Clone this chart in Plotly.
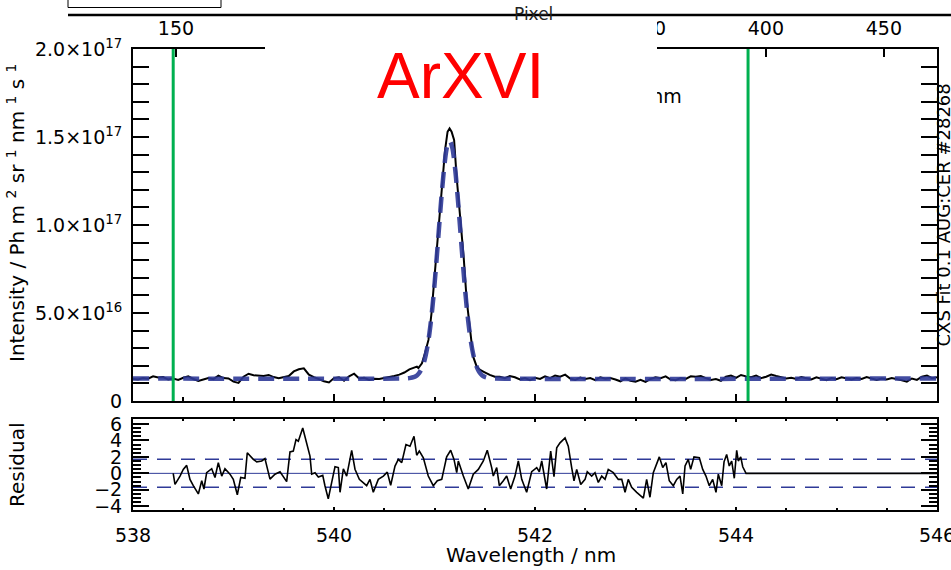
import plotly.graph_objects as go

# ---------------------------------------------------------------- data ----
# Measured spectrum (wavelength in nm, intensity in units of 1e16 Ph m^-2 sr^-1 nm^-1 s^-1)
spec_wl = [
    538.00, 538.05, 538.10, 538.15, 538.20, 538.25, 538.30, 538.35, 538.40, 538.45,
    538.50, 538.55, 538.60, 538.65, 538.70, 538.75, 538.80, 538.85, 538.90, 538.95,
    539.00, 539.05, 539.10, 539.15, 539.20, 539.25, 539.30, 539.35, 539.40, 539.45,
    539.50, 539.55, 539.60, 539.65, 539.70, 539.75, 539.80, 539.85, 539.90, 539.95,
    540.00, 540.05, 540.10, 540.15, 540.20, 540.25, 540.30, 540.35, 540.40, 540.45,
    540.50, 540.55, 540.60, 540.65, 540.70, 540.75, 540.80, 540.825, 540.84, 540.875,
    540.905, 540.94, 540.97, 541.005, 541.04, 541.07, 541.105, 541.13, 541.15, 541.17,
    541.195, 541.22, 541.255, 541.29, 541.32, 541.355, 541.385, 541.42, 541.45, 541.49,
    541.52, 541.55, 541.60, 541.65, 541.70, 541.75, 541.80, 541.85, 541.90, 541.95,
    542.00, 542.05, 542.10, 542.15, 542.20, 542.25, 542.30, 542.35, 542.40, 542.45,
    542.50, 542.55, 542.60, 542.65, 542.70, 542.75, 542.80, 542.85, 542.90, 542.95,
    543.00, 543.05, 543.10, 543.15, 543.20, 543.25, 543.30, 543.35, 543.40, 543.45,
    543.50, 543.55, 543.60, 543.65, 543.70, 543.75, 543.80, 543.85, 543.90, 543.95,
    544.00, 544.05, 544.10, 544.15, 544.20, 544.25, 544.30, 544.35, 544.40, 544.45,
    544.50, 544.55, 544.60, 544.65, 544.70, 544.75, 544.80, 544.85, 544.90, 544.95,
    545.00, 545.05, 545.10, 545.15, 545.20, 545.25, 545.30, 545.35, 545.40, 545.45,
    545.50, 545.55, 545.60, 545.65, 545.70, 545.75, 545.80, 545.85, 545.90, 545.95,
    546.00,
]
spec_int = [
    1.25, 1.22, 1.30, 1.27, 1.40, 1.33, 1.36, 1.22, 1.28, 1.20,
    1.32, 1.40, 1.25, 1.14, 1.22, 1.30, 1.24, 1.44, 1.30, 1.28,
    1.10, 1.03, 1.38, 1.55, 1.46, 1.44, 1.42, 1.48, 1.36, 1.29,
    1.34, 1.42, 1.68, 1.80, 1.86, 1.50, 1.36, 1.24, 1.12, 1.05,
    1.30, 1.35, 1.15, 1.40, 1.55, 1.28, 1.32, 1.20, 1.26, 1.25,
    1.30, 1.35, 1.42, 1.50, 1.62, 1.80, 1.88, 1.95, 1.87, 2.14,
    2.71, 3.47, 4.98, 7.26, 9.53, 11.80, 14.26, 15.30, 15.49, 15.30,
    14.83, 12.74, 10.47, 8.20, 5.74, 3.85, 2.52, 1.95, 1.78, 1.66,
    1.55, 1.48, 1.38, 1.38, 1.30, 1.42, 1.35, 1.22, 1.30, 1.18,
    1.32, 1.25, 1.40, 1.30, 1.45, 1.38, 1.50, 1.28, 1.20, 1.33,
    1.25, 1.30, 1.18, 1.35, 1.26, 1.30, 1.22, 1.12, 1.28, 1.15,
    1.10, 1.20, 1.08, 1.25, 1.35, 1.30, 1.40, 1.22, 1.18, 1.30,
    1.25, 1.40, 1.38, 1.42, 1.30, 1.20, 1.25, 1.15, 1.38, 1.45,
    1.32, 1.48, 1.40, 1.35, 1.45, 1.30, 1.38, 1.50, 1.42, 1.35,
    1.28, 1.32, 1.25, 1.36, 1.30, 1.22, 1.35, 1.28, 1.18, 1.30,
    1.24, 1.35, 1.28, 1.22, 1.30, 1.25, 1.36, 1.30, 1.20, 1.28,
    1.22, 1.30, 1.25, 1.18, 1.10, 1.28, 1.20, 1.38, 1.45, 1.30,
    1.35,
]

# Fitted line profile (same units)
fit_wl = [
    538.00, 540.70, 540.75, 540.80, 540.825, 540.85, 540.875, 540.90, 540.925, 540.95,
    540.975, 541.00, 541.025, 541.05, 541.075, 541.10, 541.125, 541.15, 541.175, 541.20,
    541.225, 541.25, 541.275, 541.30, 541.325, 541.35, 541.375, 541.40, 541.425, 541.45,
    541.475, 541.50, 541.55, 541.60, 546.00,
]
fit_int = [
    1.28, 1.28, 1.30, 1.37, 1.45, 1.61, 1.87, 2.30, 2.95, 3.87,
    5.09, 6.61, 8.36, 10.21, 11.98, 13.46, 14.44, 14.78, 14.44, 13.46,
    11.98, 10.21, 8.36, 6.61, 5.09, 3.87, 2.95, 2.30, 1.87, 1.61,
    1.45, 1.37, 1.30, 1.28, 1.28,
]
INT_UNIT = 1e16

# Fit window limits (nm)
fit_window = [538.40, 544.12]

# Normalised residual
res_wl = [
    538.400, 538.418, 538.468, 538.500, 538.534, 538.567, 538.600, 538.650, 538.684, 538.706,
    538.733, 538.783, 538.816, 538.849, 538.883, 538.915, 538.965, 538.998, 539.038, 539.072,
    539.114, 539.137, 539.197, 539.231, 539.281, 539.313, 539.363, 539.413, 539.463, 539.529,
    539.562, 539.595, 539.622, 539.645, 539.689, 539.728, 539.761, 539.778, 539.811, 539.844,
    539.888, 539.910, 539.943, 539.977, 540.010, 540.043, 540.060, 540.093, 540.126, 540.176,
    540.209, 540.252, 540.292, 540.325, 540.358, 540.391, 540.441, 540.491, 540.530, 540.564,
    540.607, 540.640, 540.674, 540.716, 540.756, 540.796, 540.823, 540.849, 540.889, 540.938,
    540.988, 541.028, 541.072, 541.121, 541.161, 541.194, 541.221, 541.237, 541.287, 541.336,
    541.386, 541.436, 541.486, 541.525, 541.569, 541.585, 541.619, 541.645, 541.685, 541.718,
    541.758, 541.801, 541.834, 541.868, 541.917, 541.967, 542.017, 542.043, 542.067, 542.116,
    542.156, 542.189, 542.216, 542.249, 542.299, 542.331, 542.365, 542.388, 542.415, 542.455,
    542.498, 542.520, 542.564, 542.597, 542.630, 542.664, 542.697, 542.729, 542.779, 542.829,
    542.863, 542.896, 542.928, 542.962, 543.012, 543.078, 543.111, 543.144, 543.177, 543.211,
    543.237, 543.271, 543.303, 543.336, 543.376, 543.410, 543.443, 543.470, 543.493, 543.525,
    543.549, 543.582, 543.635, 543.669, 543.701, 543.734, 543.768, 543.801, 543.824, 543.858,
    543.881, 543.907, 543.933, 543.957, 543.983, 544.007, 544.023, 544.047, 544.067, 544.100,
    546.000,
]
res_val = [
    0.00, -1.33, -0.33, 0.48, 0.97, -0.73, -1.50, -2.50, -0.90, -1.90,
    0.08, 0.56, -0.50, 1.30, -0.33, 0.56, -0.10, -0.73, -2.60, -0.50,
    -0.60, 2.50, 1.70, 1.40, 1.50, 1.80, -0.70, -0.10, 0.20, -1.00,
    2.60, 2.70, 4.10, 3.90, 5.50, 3.50, 2.10, -0.10, 0.08, -0.45,
    -0.25, -1.50, -3.10, -1.10, 0.80, 0.70, -2.30, 0.56, -0.33, 2.80,
    0.50, -0.73, -1.10, -1.50, -0.73, -2.30, -0.73, -0.33, 0.15, -1.45,
    0.89, 1.70, 1.30, 3.50, 3.30, 4.50, 2.20, 2.70, 1.90, -0.33,
    -1.50, -0.90, -0.73, 2.00, 2.80, 1.70, 0.08, 1.50, -0.33, -1.90,
    -0.10, 0.48, 1.50, 2.80, 0.70, -0.33, 0.70, -1.50, -0.90, -0.33,
    -1.90, -0.33, 1.50, -0.73, -2.30, 0.20, 0.70, 0.20, 1.50, -1.90,
    2.70, -0.40, 3.10, 3.70, 4.30, 3.30, 0.70, -0.90, 0.48, -1.35,
    -0.73, 0.20, -0.33, 0.08, -1.10, -0.33, -0.73, 0.48, 0.08, -0.73,
    -0.73, -2.30, -0.73, -1.70, -2.30, -3.00, -0.73, -2.90, 0.08, 1.30,
    2.00, 0.70, 1.30, -0.90, -1.50, -0.73, -0.33, -2.50, 0.89, 1.70,
    0.48, 2.00, 1.90, 0.48, -0.33, -1.50, -0.73, -2.30, -0.10, -1.50,
    1.40, 2.30, 0.89, 1.50, -0.60, 2.80, 1.50, 2.00, 0.80, 0.00,
    0.00,
]
res_band = 1.7

# Axis ticks
int_ticks = [0, 5e16, 1e17, 1.5e17, 2e17]
int_tick_text = ["0", "5.0×10<sup>16</sup>", "1.0×10<sup>17</sup>",
                 "1.5×10<sup>17</sup>", "2.0×10<sup>17</sup>"]
res_ticks = [-4, -2, 0, 2, 4, 6]
res_tick_text = ["\u22124", "\u22122", "0", "2", "4", "6"]
wl_ticks = [538, 540, 542, 544, 546]
wl_range = [538, 546]
pixel_range = [131.8, 472.5]

# -------------------------------------------------------------- layout ----
W, H = 951, 570
def px(x):
    return x / W
def py(y):
    return 1 - y / H

FONT = "DejaVu Sans"
BLUE = "#2f3a98"
GREEN = "#00b050"

fig = go.Figure()

# spectrum
fig.add_trace(go.Scatter(
    x=spec_wl, y=[v * INT_UNIT for v in spec_int], mode="lines",
    line=dict(color="black", width=2), xaxis="x", yaxis="y", hoverinfo="skip"))
# fit
fig.add_trace(go.Scatter(
    x=fit_wl, y=[v * INT_UNIT for v in fit_int], mode="lines",
    line=dict(color=BLUE, width=4.5, dash="16px,9px", shape="spline"),
    opacity=0.9, xaxis="x", yaxis="y", hoverinfo="skip"))
# fit window markers
for wl in fit_window:
    fig.add_trace(go.Scatter(
        x=[wl, wl], y=[0, 2e17], mode="lines",
        line=dict(color=GREEN, width=3), xaxis="x", yaxis="y", hoverinfo="skip"))
# unit label tail near the top of the panel
fig.add_trace(go.Scatter(
    x=[543.46], y=[1.72e17], mode="text", text=["nm"], textposition="middle left",
    textfont=dict(family=FONT, size=19, color="black"),
    xaxis="x", yaxis="y", hoverinfo="skip"))

# residual panel
fig.add_trace(go.Scatter(
    x=wl_range, y=[0, 0], mode="lines", line=dict(color=BLUE, width=1),
    xaxis="x2", yaxis="y2", hoverinfo="skip"))
for b in (res_band, -res_band):
    fig.add_trace(go.Scatter(
        x=wl_range, y=[b, b], mode="lines",
        line=dict(color=BLUE, width=1.5, dash="14px,10px"),
        xaxis="x2", yaxis="y2", hoverinfo="skip"))
fig.add_trace(go.Scatter(
    x=res_wl, y=res_val, mode="lines", line=dict(color="black", width=1.6),
    xaxis="x2", yaxis="y2", hoverinfo="skip"))

# the pixel axis needs a trace to be drawn
fig.add_trace(go.Scatter(x=pixel_range, y=[None, None], mode="lines",
                         xaxis="x3", yaxis="y", hoverinfo="skip"))

xdom = [px(133), px(937)]
axis_common = dict(showline=True, linecolor="black", linewidth=2, showgrid=False,
                   zeroline=False, ticks="inside", tickcolor="black", tickwidth=1.5,
                   automargin=False, ticklabeloverflow="allow",
                   tickfont=dict(family=FONT, size=19, color="black"))

fig.update_layout(
    template="none",
    width=W, height=H, margin=dict(l=0, r=0, t=0, b=0, pad=0),
    paper_bgcolor="white", plot_bgcolor="white", showlegend=False,
    font=dict(family=FONT, color="black"),
    xaxis=dict(domain=xdom, anchor="y", range=wl_range, dtick=2, ticklen=7,
               minor=dict(ticks="inside", dtick=0.5, ticklen=4, tickcolor="black"),
               showticklabels=False, mirror=False, **axis_common),
    yaxis=dict(domain=[py(401), py(49)], anchor="x", range=[0, 2e17],
               tickvals=int_ticks, ticktext=int_tick_text, ticklen=16,
               minor=dict(ticks="inside", dtick=1e16, ticklen=8, tickcolor="black"),
               mirror="allticks", ticklabelstandoff=5, **axis_common),
    xaxis3=dict(overlaying="x", anchor="y", side="top", range=pixel_range,
                tick0=0, dtick=50, ticklen=8, ticklabelstandoff=4, **axis_common),
    xaxis2=dict(domain=xdom, anchor="y2", range=wl_range, tickvals=wl_ticks, ticklen=3,
                minor=dict(ticks="inside", dtick=0.5, ticklen=2, tickcolor="black"),
                mirror="allticks", ticklabelstandoff=7, **axis_common),
    yaxis2=dict(domain=[py(510), py(419)], anchor="x2", range=[-4.45, 6.6],
                tickvals=res_ticks, ticktext=res_tick_text, ticklen=16,
                minor=dict(ticks="inside", dtick=0.5, ticklen=8, tickcolor="black"),
                mirror="allticks", ticklabelstandoff=5, **axis_common),
)

shapes = [
    # masking panel behind the ion label
    dict(type="rect", xref="paper", yref="paper", x0=px(265), x1=px(657),
         y0=py(110), y1=py(17), fillcolor="white", line=dict(width=0), layer="above"),
    # rule across the header
    dict(type="line", xref="paper", yref="paper", x0=px(68), x1=1.0,
         y0=py(15), y1=py(15), line=dict(color="black", width=2.5), layer="above"),
    # header box
    dict(type="rect", xref="paper", yref="paper", x0=px(68), x1=px(221),
         y0=py(7.5), y1=py(-10), line=dict(color="black", width=1), layer="above"),
]

annotations = [
    dict(text="ArXVI", x=px(460), y=py(76), xref="paper", yref="paper",
         showarrow=False, xanchor="center", yanchor="middle",
         font=dict(family="Liberation Sans", size=64, color="#ff0000")),
    dict(text="Pixel", x=px(533), y=py(14), xref="paper", yref="paper",
         showarrow=False, xanchor="center", yanchor="middle",
         font=dict(family=FONT, size=17, color="#222222")),
    dict(text="Intensity / Ph m <sup>2</sup> sr <sup>1</sup> nm <sup>1</sup> s <sup>1</sup>",
         x=px(16), y=py(213), xref="paper", yref="paper", textangle=-90,
         showarrow=False, xanchor="center", yanchor="middle",
         font=dict(family=FONT, size=20, color="black")),
    dict(text="Residual", x=px(17), y=py(465), xref="paper", yref="paper",
         textangle=-90, showarrow=False, xanchor="center", yanchor="middle",
         font=dict(family=FONT, size=20, color="black")),
    dict(text="Wavelength / nm", x=px(531), y=py(555), xref="paper", yref="paper",
         showarrow=False, xanchor="center", yanchor="middle",
         font=dict(family=FONT, size=20, color="black")),
    dict(text="CXS Fit 0.1 AUG:CER #28268", x=px(930), y=py(215), xref="paper",
         yref="paper", textangle=-90, showarrow=False, xanchor="left",
         yanchor="middle", font=dict(family=FONT, size=18, color="black")),
]
fig.update_layout(shapes=shapes, annotations=annotations)

fig.write_html("out.html")
